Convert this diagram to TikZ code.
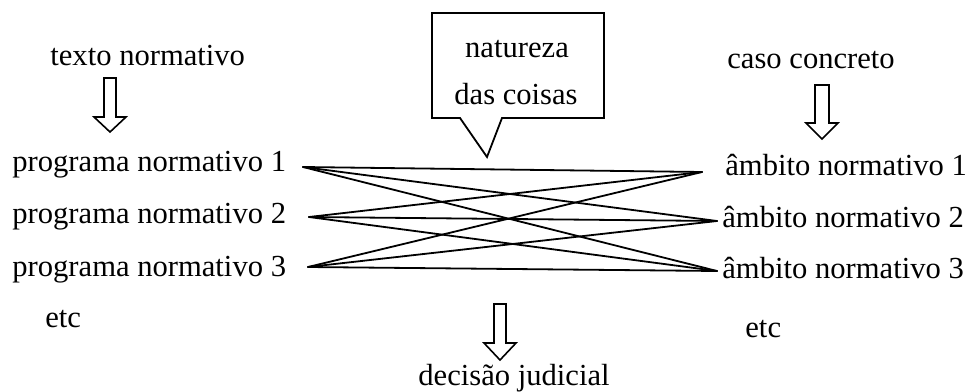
\documentclass[tikz,border=0pt]{standalone}
\usepackage{fontspec}
\setmainfont{Liberation Serif}
\begin{document}
\begin{tikzpicture}[x=0.5pt,y=-0.5pt,
  txt/.style={inner sep=0pt, anchor=base west, font=\fontsize{15.3}{18}\selectfont},
  ctxt/.style={inner sep=0pt, anchor=base, font=\fontsize{15.3}{18}\selectfont},
  link/.style={line width=0.9pt, line cap=round},
  hollow/.style={draw, line width=0.8pt, fill=white, line join=miter},
  bubble/.style={draw, line width=0.9pt, line join=miter}]
\useasboundingbox (0,0) rectangle (968,391);
% left column
\node[txt] (tn) at (50,65) {texto normativo};
\node[txt] (p1) at (12,171) {programa normativo 1};
\node[txt] (p2) at (12,223) {programa normativo 2};
\node[txt] (p3) at (12,276) {programa normativo 3};
\node[txt] (etcL) at (45,327) {etc};
% right column
\node[txt] (cc) at (727,68) {caso concreto};
\node[txt] (a1) at (725,175) {âmbito normativo 1};
\node[txt] (a2) at (722,227) {âmbito normativo 2};
\node[txt] (a3) at (722,278) {âmbito normativo 3};
\node[txt] (etcR) at (745,337) {etc};
% bottom
\node[txt] (dj) at (418,385) {decisão judicial};
% callout
\draw[bubble] (432,13) -- (604,13) -- (604,118) -- (502,118) -- (487,157)
  -- (460,118) -- (432,118) -- cycle;
\node[ctxt] (nat1) at (517,57) {natureza};
\node[ctxt] (nat2) at (516,104) {das coisas};
% hollow arrows
\draw[hollow] (104,78) -- (116,78) -- (116,117) -- (126,117) -- (110,132)
  -- (94,117) -- (104,117) -- cycle;
\draw[hollow] (815,85) -- (829,85) -- (829,123) -- (838,123) -- (822,139)
  -- (806,123) -- (815,123) -- cycle;
\draw[hollow] (494,304) -- (506,304) -- (506,343) -- (516,343) -- (500,360)
  -- (484,343) -- (494,343) -- cycle;
% connection points
\coordinate (L1) at (303,167);
\coordinate (L2) at (309,217);
\coordinate (L3) at (308,267);
\coordinate (R1) at (702,172);
\coordinate (R2) at (717,221);
\coordinate (R3) at (717,271);
\foreach \l in {L1,L2,L3}
  \foreach \r in {R1,R2,R3}
    \draw[link] (\l) -- (\r);
\end{tikzpicture}
\end{document}
